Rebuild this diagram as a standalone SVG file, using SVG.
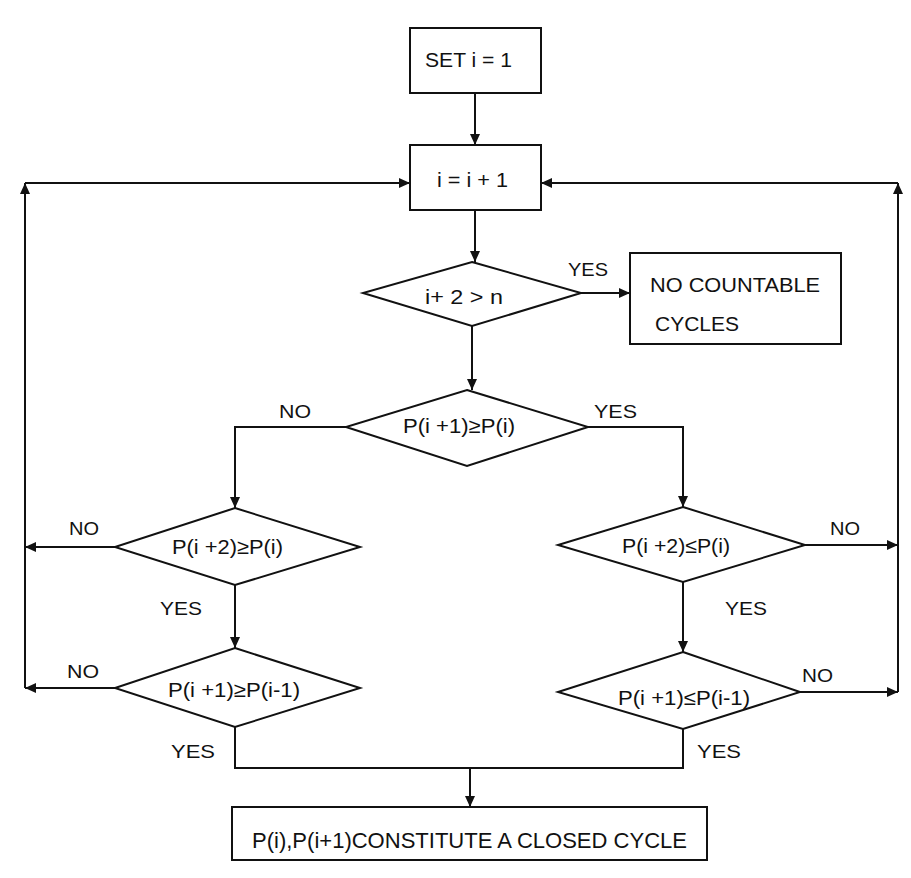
<svg xmlns="http://www.w3.org/2000/svg" width="911" height="878" viewBox="0 0 911 878">
<style>
.box{fill:#fff;stroke:#111;stroke-width:2}
.con{fill:none;stroke:#111;stroke-width:2}
text{font-family:"Liberation Sans",Arial,sans-serif;fill:#111;font-size:21px}
.lbl{font-size:18.5px}
.big{font-size:22px}
</style>
<defs>
<marker id="arr" markerUnits="userSpaceOnUse" markerWidth="12" markerHeight="10" refX="11" refY="5" orient="auto">
<path d="M0,0 L11,5 L0,10 z" fill="#111"/>
</marker>
</defs>
<rect width="911" height="878" fill="#fff"/>
<g id="connectors">
<path class="con" d="M475,93 V145" marker-end="url(#arr)"/>
<path class="con" d="M475,210 V262" marker-end="url(#arr)"/>
<path class="con" d="M581,293 H630" marker-end="url(#arr)"/>
<path class="con" d="M472,326 V390" marker-end="url(#arr)"/>
<path class="con" d="M346,427 H235 V508" marker-end="url(#arr)"/>
<path class="con" d="M588,427 H683 V507" marker-end="url(#arr)"/>
<path class="con" d="M115,547 H25" marker-end="url(#arr)"/>
<path class="con" d="M235,585 V648" marker-end="url(#arr)"/>
<path class="con" d="M115,688 H25" marker-end="url(#arr)"/>
<path class="con" d="M805,545 H898" marker-end="url(#arr)"/>
<path class="con" d="M683,582 V652" marker-end="url(#arr)"/>
<path class="con" d="M800,692 H898" marker-end="url(#arr)"/>
<path class="con" d="M25,688 V183" marker-end="url(#arr)"/>
<path class="con" d="M25,183 H410" marker-end="url(#arr)"/>
<path class="con" d="M898,692 V183" marker-end="url(#arr)"/>
<path class="con" d="M898,183 H541" marker-end="url(#arr)"/>
<path class="con" d="M235,727 V768 H683 V729"/>
<path class="con" d="M470,768 V807" marker-end="url(#arr)"/>
<text class="lbl" x="568" y="276" textLength="40" lengthAdjust="spacingAndGlyphs">YES</text>
<text class="lbl" x="279" y="418" textLength="32" lengthAdjust="spacingAndGlyphs">NO</text>
<text class="lbl" x="594" y="418" textLength="43" lengthAdjust="spacingAndGlyphs">YES</text>
<text class="lbl" x="69" y="535" textLength="30" lengthAdjust="spacingAndGlyphs">NO</text>
<text class="lbl" x="160" y="615" textLength="42" lengthAdjust="spacingAndGlyphs">YES</text>
<text class="lbl" x="67" y="678" textLength="32" lengthAdjust="spacingAndGlyphs">NO</text>
<text class="lbl" x="830" y="535" textLength="30" lengthAdjust="spacingAndGlyphs">NO</text>
<text class="lbl" x="725" y="615" textLength="42" lengthAdjust="spacingAndGlyphs">YES</text>
<text class="lbl" x="802" y="682" textLength="31" lengthAdjust="spacingAndGlyphs">NO</text>
<text class="lbl" x="171" y="758" textLength="44" lengthAdjust="spacingAndGlyphs">YES</text>
<text class="lbl" x="697" y="758" textLength="44" lengthAdjust="spacingAndGlyphs">YES</text>
</g>
<g id="set">
<rect class="box" x="410" y="28" width="131" height="65"/>
<text x="425" y="67" textLength="87" lengthAdjust="spacingAndGlyphs">SET i = 1</text>
</g>
<g id="incr">
<rect class="box" x="410" y="145" width="131" height="65"/>
<text x="437" y="187" textLength="71" lengthAdjust="spacingAndGlyphs">i = i + 1</text>
</g>
<g id="d1">
<polygon class="box" points="472,262 581,293 472,326 363,293"/>
<text x="425" y="304" textLength="78" lengthAdjust="spacingAndGlyphs">i+ 2 &gt; n</text>
</g>
<g id="nocount">
<rect class="box" x="630" y="253" width="211" height="91"/>
<text x="650" y="292" textLength="170" lengthAdjust="spacingAndGlyphs">NO COUNTABLE</text>
<text x="655" y="331" textLength="84" lengthAdjust="spacingAndGlyphs">CYCLES</text>
</g>
<g id="d2">
<polygon class="box" points="467,390 588,427 467,466 346,427"/>
<text x="403" y="433" textLength="112" lengthAdjust="spacingAndGlyphs">P(i +1)≥P(i)</text>
</g>
<g id="d3">
<polygon class="box" points="235,508 360,547 235,585 115,547"/>
<text x="172" y="554" textLength="111" lengthAdjust="spacingAndGlyphs">P(i +2)≥P(i)</text>
</g>
<g id="d5">
<polygon class="box" points="235,648 360,688 235,727 115,688"/>
<text x="168" y="697" textLength="132" lengthAdjust="spacingAndGlyphs">P(i +1)≥P(i-1)</text>
</g>
<g id="d4">
<polygon class="box" points="683,507 805,545 683,582 558,545"/>
<text x="622" y="553" textLength="108" lengthAdjust="spacingAndGlyphs">P(i +2)≤P(i)</text>
</g>
<g id="d6">
<polygon class="box" points="683,652 800,692 683,729 558,692"/>
<text x="618" y="705" textLength="132" lengthAdjust="spacingAndGlyphs">P(i +1)≤P(i-1)</text>
</g>
<g id="closed">
<rect class="box" x="232" y="807" width="475" height="53"/>
<text class="big" x="252" y="848" textLength="435" lengthAdjust="spacingAndGlyphs">P(i),P(i+1)CONSTITUTE A CLOSED CYCLE</text>
</g>
</svg>
